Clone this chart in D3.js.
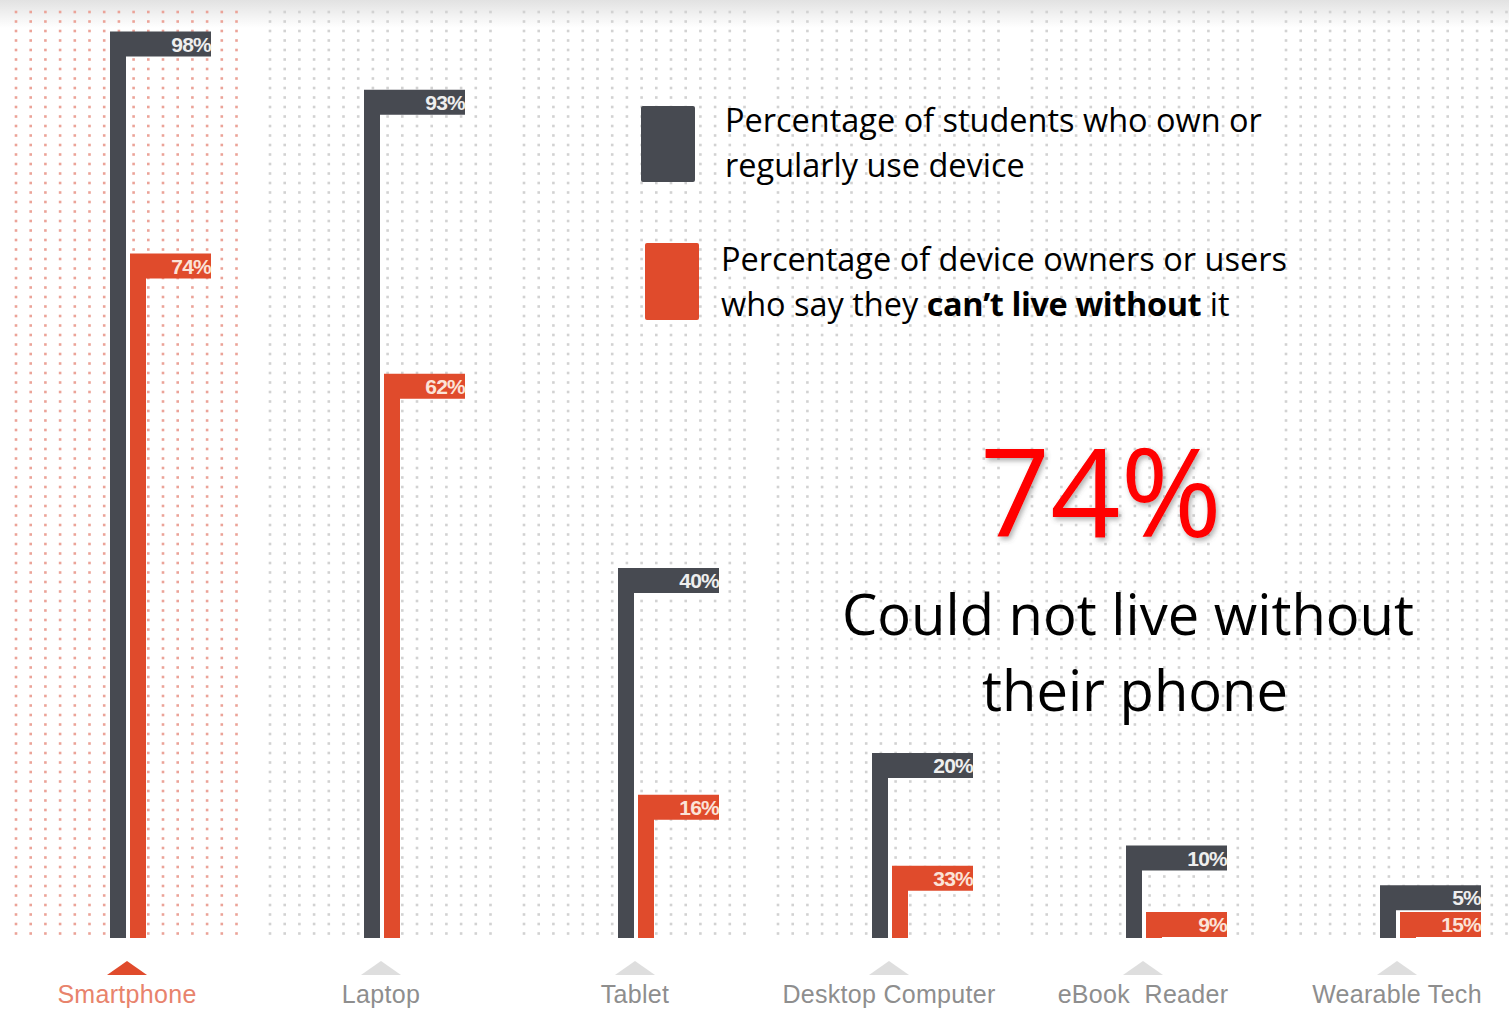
<!DOCTYPE html>
<html>
<head>
<meta charset="utf-8">
<script src="https://cdn.jsdelivr.net/npm/d3@7"></script>
<style>
  body { margin: 0; background: #fff; }
  svg { display: block; }
</style>
</head>
<body>
<svg id="chart"></svg>
<script>
// <----------------- data ----------------------->
const devices = ["Smartphone", "Laptop", "Tablet", "Desktop Computer", "eBook  Reader", "Wearable Tech"];
const ownPct = [98, 93, 40, 20, 10, 5];
const livePct = [74, 62, 16, 33, 9, 15];
// the infographic does not always draw bars at the height of their label,
// so these are the heights (in % of the axis)
const ownBarShown = [98, 91.7, 40, 20, 10, 5.7];
const liveBarShown = [74, 61, 15.5, 7.8, 2.8, 2.8];

const legendOwn = ["Percentage of students who own or", "regularly use device"];
const legendLive = ["Percentage of device owners or users", "who say they ", "can\u2019t live without", " it"];
const bigNumber = "74%";
const bigCaption = ["Could not live without", "their phone"];

let width = 1509;
let height = 1010;
const darkColor = "#474a51";
const orangeColor = "#e04b2c";

const svg = d3.select("#chart").attr("width", width).attr("height", height);

const defs = svg.append("defs");
const grad = defs.append("linearGradient").attr("id", "topShade").attr("x1", 0).attr("x2", 0).attr("y1", 0).attr("y2", 1);
grad.append("stop").attr("offset", "0%").attr("stop-color", "#e2e2e2");
grad.append("stop").attr("offset", "100%").attr("stop-color", "#ffffff");
defs.append("filter").attr("id", "shadow")
  .attr("x", "-10%").attr("y", "-10%").attr("width", "130%").attr("height", "130%")
  .append("feDropShadow")
  .attr("dx", 2).attr("dy", 3).attr("stdDeviation", 2.5)
  .attr("flood-color", "#555").attr("flood-opacity", 0.45);

svg.append("rect").attr("width", width).attr("height", height).attr("fill", "#fff");
svg.append("rect").attr("width", width).attr("height", 28).attr("fill", "url(#topShade)");

// scales
const xScale = d3.scaleBand().domain(devices).range([0, 254 * devices.length]);
const center = (d) => xScale(d) + xScale.bandwidth() / 2;
const baseline = 938;
const yScale = d3.scaleLinear().domain([0, 100]).range([baseline, 13]);

// <---------------- dotted background columns ------------------>
const dotCols = d3.range(16);
const dotRows = d3.range(12, 935, 9.5);
const dots = svg.append("g").attr("class", "dots");
devices.forEach((dev, i) => {
  let cx = center(dev);
  let g = dots.append("g");
  dotRows.forEach((yy) => {
    g.selectAll(null)
      .data(dotCols)
      .enter()
      .append("rect")
      .attr("x", (c) => cx - 111 + c * 14.7 - 1.3)
      .attr("y", yy - 1.3)
      .attr("width", 2.6)
      .attr("height", 2.6)
      .attr("fill", i === 0 ? "#eba398" : "#d2d2d2");
  });
});

// <---------------- bars (flag shapes) ------------------>
const flagH = 25;
const stemW = 16;
const rows = devices.map((d, i) => ({
  name: d, own: ownPct[i], live: livePct[i],
  ownShown: ownBarShown[i], liveShown: liveBarShown[i],
}));

const bars = svg.append("g").attr("class", "bars");
const flag = (x0, top, right) =>
  "M" + x0 + "," + baseline + "V" + top + "H" + right + "V" + (top + flagH) +
  "H" + (x0 + stemW) + "V" + baseline + "Z";

const groups = bars.selectAll("g").data(rows).enter().append("g");

groups.append("path")
  .attr("d", (d) => flag(center(d.name) - 17, yScale(d.ownShown), center(d.name) + 84))
  .attr("fill", darkColor);
groups.append("text")
  .attr("x", (d) => center(d.name) + 84)
  .attr("y", (d) => yScale(d.ownShown) + 20)
  .attr("text-anchor", "end")
  .attr("font-family", "'Liberation Sans', Arial, sans-serif")
  .attr("font-weight", "bold")
  .attr("font-size", 21)
  .attr("letter-spacing", -0.8)
  .attr("fill", "#eeeeee")
  .text((d) => d.own + "%");

groups.append("path")
  .attr("d", (d) => flag(center(d.name) + 3, yScale(d.liveShown), center(d.name) + 84))
  .attr("fill", orangeColor);
groups.append("text")
  .attr("x", (d) => center(d.name) + 84)
  .attr("y", (d) => yScale(d.liveShown) + 20)
  .attr("text-anchor", "end")
  .attr("font-family", "'Liberation Sans', Arial, sans-serif")
  .attr("font-weight", "bold")
  .attr("font-size", 21)
  .attr("letter-spacing", -0.8)
  .attr("fill", "#fbe3d8")
  .text((d) => d.live + "%");

// <---------------- category axis ------------------>
const axis = svg.append("g").attr("class", "axis");
axis.selectAll("path")
  .data(devices)
  .enter()
  .append("path")
  .attr("d", (d) => {
    let cx = center(d);
    return "M" + (cx - 20) + ",975L" + cx + ",961L" + (cx + 20) + ",975Z";
  })
  .attr("fill", (d, i) => (i === 0 ? orangeColor : "#dedede"));
axis.selectAll("text")
  .data(devices)
  .enter()
  .append("text")
  .attr("x", (d) => center(d))
  .attr("y", 1003)
  .attr("text-anchor", "middle")
  .attr("font-family", "'Liberation Sans', Arial, sans-serif")
  .attr("font-size", 25)
  .attr("letter-spacing", 0.3)
  .attr("xml:space", "preserve")
  .style("white-space", "pre")
  .attr("fill", (d, i) => (i === 0 ? "#e8836c" : "#8e8e8e"))
  .text((d) => d);

// <---------------- legend ------------------>
const fitWidth = (sel, w) => {
  let len = sel.node().getComputedTextLength();
  let fs = parseFloat(sel.attr("font-size"));
  return (fs * w) / len;
};
const legendFont = "'Open Sans', 'Noto Sans', sans-serif";
const legend = svg.append("g").attr("class", "legend");
legend.append("rect").attr("x", 641).attr("y", 106).attr("width", 54).attr("height", 76)
  .attr("rx", 2).attr("fill", darkColor);
legend.append("rect").attr("x", 645).attr("y", 243).attr("width", 54).attr("height", 77)
  .attr("rx", 2).attr("fill", orangeColor);

const l1 = legend.append("text").attr("x", 725).attr("y", 132)
  .attr("font-family", legendFont).attr("font-size", 30).attr("fill", "#000").text(legendOwn[0]);
let legendSize = fitWidth(l1, 537);
l1.attr("font-size", legendSize);
legend.append("text").attr("x", 725).attr("y", 177)
  .attr("font-family", legendFont).attr("font-size", legendSize).attr("fill", "#000").text(legendOwn[1]);
legend.append("text").attr("x", 721).attr("y", 271)
  .attr("font-family", legendFont).attr("font-size", legendSize).attr("fill", "#000").text(legendLive[0]);
const l4 = legend.append("text").attr("x", 721).attr("y", 316)
  .attr("font-family", legendFont).attr("font-size", legendSize).attr("fill", "#000")
  .attr("xml:space", "preserve").style("white-space", "pre");
l4.append("tspan").text(legendLive[1]);
l4.append("tspan").attr("font-weight", "bold").attr("letter-spacing", -0.4).text(legendLive[2]);
l4.append("tspan").text(legendLive[3]);

// <---------------- callout ------------------>
const big = svg.append("text").attr("x", 1101).attr("y", 537)
  .attr("text-anchor", "middle")
  .attr("font-family", legendFont).attr("font-size", 120)
  .attr("fill", "#ff0000").attr("filter", "url(#shadow)")
  .text(bigNumber);
big.attr("font-size", fitWidth(big, 242));

const cap1 = svg.append("text").attr("x", 1128).attr("y", 635)
  .attr("text-anchor", "middle")
  .attr("font-family", legendFont).attr("font-size", 52).attr("fill", "#000")
  .text(bigCaption[0]);
let capSize = fitWidth(cap1, 572);
cap1.attr("font-size", capSize);
svg.append("text").attr("x", 1135).attr("y", 711)
  .attr("text-anchor", "middle")
  .attr("font-family", legendFont).attr("font-size", capSize).attr("fill", "#000")
  .text(bigCaption[1]);
</script>
</body>
</html>
